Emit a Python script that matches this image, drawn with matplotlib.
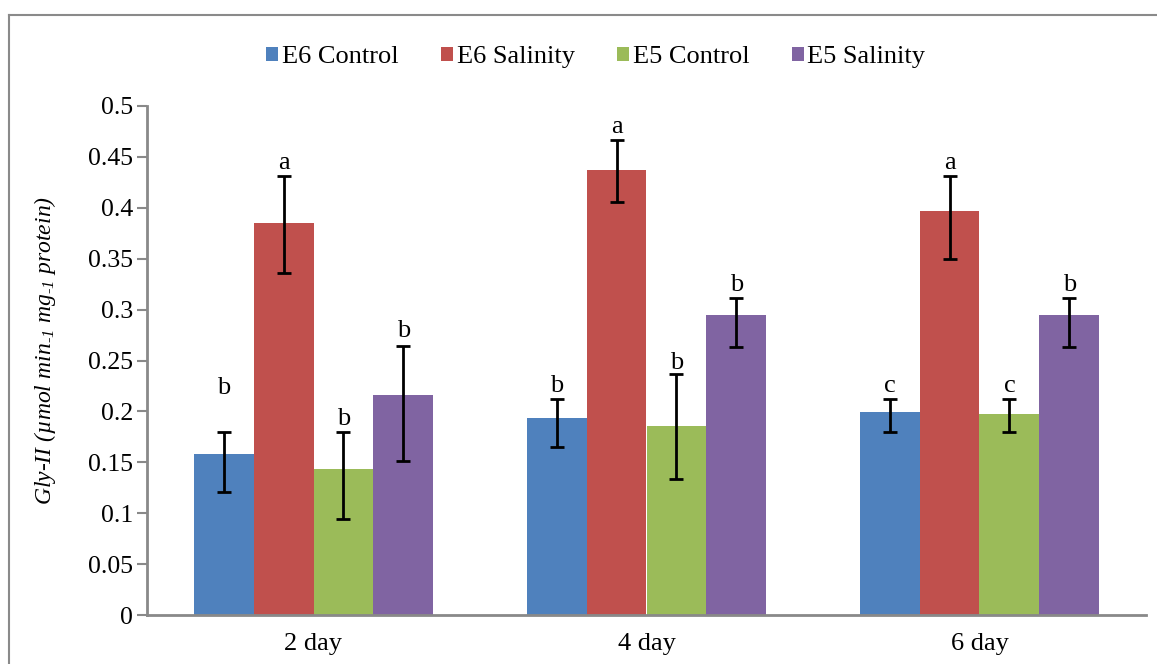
import matplotlib
matplotlib.use("Agg")
import matplotlib.pyplot as plt
import numpy as np
from matplotlib.lines import Line2D
from matplotlib.patches import Patch

plt.rcParams['font.family'] = ['Liberation Serif', 'DejaVu Serif']
plt.rcParams['mathtext.fontset'] = 'custom'
plt.rcParams['mathtext.rm'] = 'Liberation Serif:italic'
plt.rcParams['mathtext.it'] = 'Liberation Serif:italic'

categories = ["2 day", "4 day", "6 day"]
series = ["E6 Control", "E6 Salinity", "E5 Control", "E5 Salinity"]
colors = ["#4F81BD", "#C0504D", "#9BBB59", "#8064A2"]

e6_control = [0.158, 0.194, 0.199]
e6_salinity = [0.385, 0.437, 0.397]
e5_control = [0.143, 0.186, 0.197]
e5_salinity = [0.216, 0.295, 0.295]

e6_control_top = [0.180, 0.212, 0.212]
e6_control_bot = [0.121, 0.165, 0.180]
e6_salinity_top = [0.431, 0.467, 0.431]
e6_salinity_bot = [0.336, 0.406, 0.350]
e5_control_top = [0.180, 0.237, 0.212]
e5_control_bot = [0.094, 0.134, 0.180]
e5_salinity_top = [0.264, 0.311, 0.311]
e5_salinity_bot = [0.151, 0.263, 0.263]

e6_control_letters = ["b", "b", "c"]
e6_salinity_letters = ["a", "a", "a"]
e5_control_letters = ["b", "b", "c"]
e5_salinity_letters = ["b", "b", "b"]
letter_heights = [
    [0.217, 0.219, 0.219],
    [0.438, 0.473, 0.438],
    [0.187, 0.242, 0.219],
    [0.273, 0.318, 0.318],
]

values = [e6_control, e6_salinity, e5_control, e5_salinity]
tops = [e6_control_top, e6_salinity_top, e5_control_top, e5_salinity_top]
bots = [e6_control_bot, e6_salinity_bot, e5_control_bot, e5_salinity_bot]
letters = [e6_control_letters, e6_salinity_letters, e5_control_letters, e5_salinity_letters]

W, H = 1157, 664
fig = plt.figure(figsize=(W / 100, H / 100), dpi=100)
ax = fig.add_axes([147 / W, 1 - 615 / H, (1146 - 147) / W, (615 - 106) / H])

x = np.arange(len(categories))
bw = 0.18
spine_col = "#898989"
for i, (vals, tp, bt, lt, col) in enumerate(zip(values, tops, bots, letters, colors)):
    pos = x + (i - 1.5) * bw
    vals = np.array(vals)
    lo = vals - np.array(bt)
    hi = np.array(tp) - vals
    ax.bar(pos, vals, width=bw, color=col, label=series[i], zorder=2)
    ax.errorbar(pos, vals, yerr=[lo, hi], fmt='none', ecolor='black',
                elinewidth=2.0, capsize=5, capthick=2.0, zorder=3)
    for p, l, h in zip(pos, lt, letter_heights[i]):
        ax.text(p, h, l, ha='center', va='baseline', fontsize=19, color='black')

ax.set_xlim(-0.5, 2.5)
ax.set_ylim(0, 0.5)
ax.set_yticks(np.arange(0, 0.501, 0.05))
ax.set_yticklabels(["0", "0.05", "0.1", "0.15", "0.2", "0.25", "0.3", "0.35", "0.4", "0.45", "0.5"])
ax.set_xticks(x)
ax.set_xticklabels(categories)
ax.tick_params(axis='y', direction='out', length=7, width=1.5, color=spine_col,
               labelsize=18.5, pad=3)
ax.tick_params(axis='x', length=0, labelsize=19, pad=13)
for s in ['top', 'right']:
    ax.spines[s].set_visible(False)
for s in ['left', 'bottom']:
    ax.spines[s].set_color(spine_col)
    ax.spines[s].set_linewidth(2)

ax.set_ylabel(r"Gly-II (µmol min$_{\text{-}1}$ mg$_{\text{-}1}$ protein)", fontsize=17,
              fontstyle='italic')
ax.yaxis.set_label_coords(-0.089, 0.52)

handles = [Patch(facecolor=c, edgecolor='none') for c in colors]
fig.legend(handles, series, loc='center', bbox_to_anchor=(0.515, 1 - 57 / H),
           ncol=4, frameon=False, fontsize=19, handlelength=0.45, handleheight=0.45,
           handletextpad=0.15, columnspacing=1.6)

# figure border (left and top visible)
fig.add_artist(Line2D([9 / W, 9 / W], [0, 1 - 15 / H], transform=fig.transFigure,
                      color="#8a8a8a", lw=1.5))
fig.add_artist(Line2D([9 / W, 1], [1 - 15 / H, 1 - 15 / H], transform=fig.transFigure,
                      color="#8a8a8a", lw=1.5))

fig.savefig("out.png", dpi=100)
